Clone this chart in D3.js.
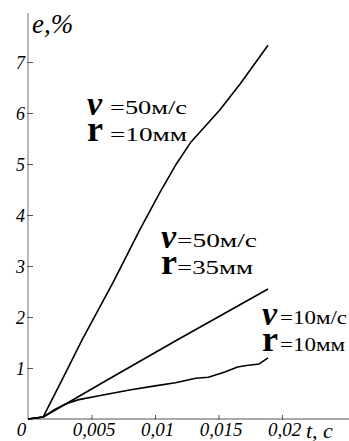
<!DOCTYPE html>
<html>
<head>
<meta charset="utf-8">
<script src="https://cdn.jsdelivr.net/npm/d3@7"></script>
<style>
  body { margin: 0; background: #fff; }
  svg { display: block; }
</style>
</head>
<body>
<div id="chart"></div>
<script>
// Datos
const xTicks = [0, 0.005, 0.01, 0.015, 0.02];
const xTickLabels = ['0', '0,005', '0,01', '0,015', '0,02'];
const yTicks = [1, 2, 3, 4, 5, 6, 7];
const yTickLabels = ['1', '2', '3', '4', '5', '6', '7'];

// v=50 м/с, r=10 мм
const t1 = [0, 0.0012, 0.0026, 0.0043, 0.0067, 0.0088, 0.0104, 0.0116, 0.0128, 0.0151, 0.0167, 0.0189];
const e1 = [0, 0.04, 0.73, 1.57, 2.68, 3.71, 4.45, 4.97, 5.42, 6.06, 6.57, 7.33];
// v=50 м/с, r=35 мм
const t2 = [0, 0.0012, 0.0062, 0.0116, 0.0189];
const e2 = [0, 0.04, 0.76, 1.53, 2.55];
// v=10 м/с, r=10 мм
const t3 = [0, 0.0012, 0.002, 0.003, 0.004, 0.0057, 0.008, 0.010, 0.0116, 0.0125, 0.0132, 0.0142, 0.0155, 0.0165, 0.0172, 0.0182, 0.0189];
const e3 = [0, 0.04, 0.17, 0.3, 0.38, 0.46, 0.57, 0.65, 0.71, 0.76, 0.8, 0.82, 0.92, 1.02, 1.05, 1.08, 1.2];

const series = [
  { t: t1, e: e1 },
  { t: t2, e: e2 },
  { t: t3, e: e3 }
];

const labels = [
  { x: 87, y: 115, v: '=50м/с', r: '=10мм', w1: 77, w2: 77, dx: 23 },
  { x: 161, y: 248, v: '=50м/с', r: '=35мм', w1: 80, w2: 76, dx: 16 },
  { x: 262, y: 325, v: '=10м/с', r: '=10мм', w1: 67, w2: 65, dx: 18 }
];

const serif = "'Liberation Serif', 'Times New Roman', Times, serif";
const width = 349, height = 441;

const svg = d3.select('#chart').append('svg')
  .attr('width', width)
  .attr('height', height)
  .attr('font-family', serif);

const x = d3.scaleLinear().domain([0, 0.02]).range([28, 282]);
const y = d3.scaleLinear().domain([0, 7]).range([419, 62]);

// Ejes
svg.append('line')
  .attr('x1', x(0)).attr('x2', width)
  .attr('y1', y(0)).attr('y2', y(0))
  .attr('stroke', '#555').attr('stroke-width', 1.2);
svg.append('line')
  .attr('x1', x(0)).attr('x2', x(0))
  .attr('y1', y(0)).attr('y2', 13)
  .attr('stroke', '#888').attr('stroke-width', 1.2);

const xAxis = svg.append('g')
  .attr('transform', `translate(0,${y(0)})`)
  .call(d3.axisBottom(x).tickValues(xTicks).tickSize(-4)
    .tickFormat((d, i) => xTickLabels[i]));
xAxis.attr('font-family', serif);
xAxis.select('.domain').remove();
xAxis.selectAll('.tick line').attr('stroke', '#555').attr('y1', 1)
  .filter(d => d === 0).remove();
xAxis.selectAll('.tick text')
  .attr('font-size', 19).attr('font-style', 'italic').attr('fill', '#000')
  .attr('y', 17).attr('dy', 0)
  .attr('dx', d => d === 0 ? -7 : 2);

const yAxis = svg.append('g')
  .attr('transform', `translate(${x(0)},0)`)
  .call(d3.axisLeft(y).tickValues(yTicks).tickSize(-5)
    .tickFormat((d, i) => yTickLabels[i]));
yAxis.attr('font-family', serif);
yAxis.select('.domain').remove();
yAxis.selectAll('.tick line').attr('stroke', '#555').attr('x1', -1);
yAxis.selectAll('.tick text')
  .attr('font-size', 18).attr('font-style', 'italic').attr('fill', '#000')
  .attr('x', -3).attr('dy', 6);

// Títulos de ejes
svg.append('text')
  .attr('x', 32).attr('y', 33)
  .attr('font-size', 27).attr('font-style', 'italic')
  .text('e,%');
svg.append('text')
  .attr('x', 306).attr('y', 438)
  .attr('font-size', 22).attr('font-style', 'italic')
  .text('t, c');

// Curvas
const line = d3.line()
  .x(d => x(d[0]))
  .y(d => y(d[1]));

series.forEach(s => {
  svg.append('path')
    .datum(s.t.map((t, i) => [t, s.e[i]]))
    .attr('d', line)
    .attr('fill', 'none')
    .attr('stroke', '#000')
    .attr('stroke-width', 1.6)
    .attr('stroke-linejoin', 'round');
});

// Etiquetas de las curvas
labels.forEach(l => {
  svg.append('text')
    .attr('x', l.x).attr('y', l.y)
    .attr('font-size', 34).attr('font-weight', 'bold').attr('font-style', 'italic')
    .text('ν');
  svg.append('text')
    .attr('x', l.x + l.dx).attr('y', l.y - 1)
    .attr('font-size', 19)
    .attr('textLength', l.w1).attr('lengthAdjust', 'spacingAndGlyphs')
    .text(l.v);
  svg.append('text')
    .attr('x', l.x).attr('y', l.y + 26)
    .attr('font-size', 36).attr('font-weight', 'bold')
    .text('r');
  svg.append('text')
    .attr('x', l.x + l.dx).attr('y', l.y + 26)
    .attr('font-size', 19)
    .attr('textLength', l.w2).attr('lengthAdjust', 'spacingAndGlyphs')
    .text(l.r);
});
</script>
</body>
</html>
